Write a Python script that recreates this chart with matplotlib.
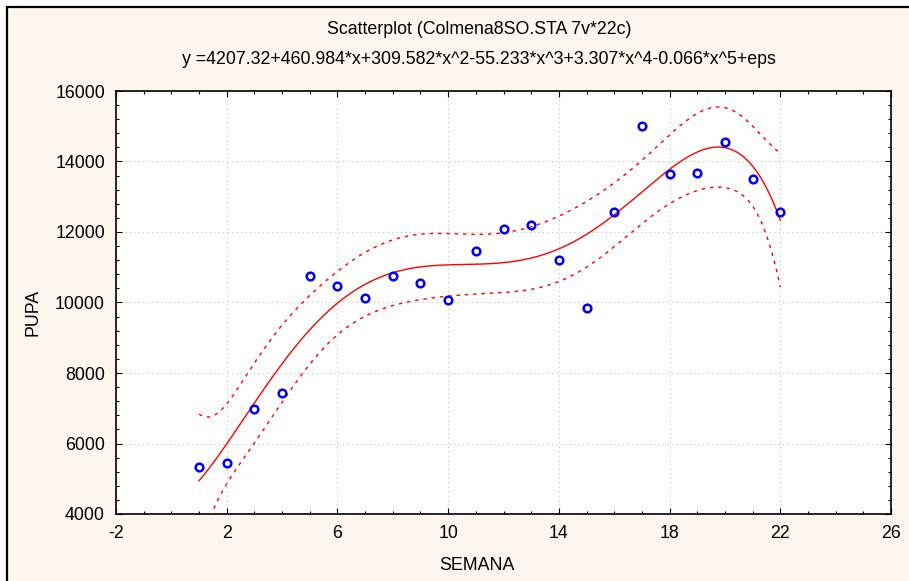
import numpy as np
import matplotlib
matplotlib.use("Agg")
import matplotlib.pyplot as plt
from matplotlib.patches import Rectangle
from matplotlib.ticker import MultipleLocator

# weekly counts read from the scatterplot
semana = [1, 2, 3, 4, 5, 6, 7, 8, 9, 10, 11,
          12, 13, 14, 15, 16, 17, 18, 19, 20, 21, 22]
pupa = [5340, 5460, 6990, 7420, 10750, 10460, 10120, 10750, 10550, 10070, 11460,
        12080, 12190, 11200, 9830, 12570, 15000, 13650, 13670, 14560, 13500, 12570]

title_1 = "Scatterplot (Colmena8SO.STA 7v*22c)"
title_2 = "y =4207.32+460.984*x+309.582*x^2-55.233*x^3+3.307*x^4-0.066*x^5+eps"
x_ticks = [-2, 2, 6, 10, 14, 18, 22, 26]
y_ticks = [4000, 6000, 8000, 10000, 12000, 14000, 16000]

plt.rcParams['font.family'] = ['Liberation Sans', 'DejaVu Sans']
plt.rcParams['axes.unicode_minus'] = False

W, H = 909, 581
bg = '#fdf6ef'


def fit_poly(x, y, deg=5, t_val=2.12):
    """5th degree least squares fit plus 95% band of the mean"""
    x = np.asarray(x, float)
    y = np.asarray(y, float)
    X = np.vander(x, deg + 1)
    beta, *_ = np.linalg.lstsq(X, y, rcond=None)
    resid = y - X @ beta
    s2 = resid @ resid / (len(x) - deg - 1)
    cov = s2 * np.linalg.inv(X.T @ X)
    xg = np.linspace(x.min(), x.max(), 400)
    Xg = np.vander(xg, deg + 1)
    yg = Xg @ beta
    se = np.sqrt(np.einsum('ij,jk,ik->i', Xg, cov, Xg))
    return xg, yg, yg - t_val * se, yg + t_val * se


def main() -> None:
    fig = plt.figure(figsize=(W / 100, H / 100), dpi=100, facecolor='white')
    fig.add_artist(Rectangle((7 / W, -0.1), 1.2, 1 - 7 / H + 0.1,
                             transform=fig.transFigure, facecolor=bg,
                             edgecolor='black', lw=1.6, zorder=-1))

    ax = fig.add_axes([116 / W, 1 - 514 / H, (891 - 116) / W, (514 - 91) / H])
    ax.set_facecolor('white')

    xg, yg, lo, hi = fit_poly(semana, pupa)
    ax.plot(xg, yg, color='#ff0000', lw=1.0, zorder=3)
    ax.plot(xg, hi, color='#ff0000', lw=1.0, ls=(0, (2.5, 3.5)), zorder=3)
    ax.plot(xg, lo, color='#ff0000', lw=1.0, ls=(0, (2.5, 3.5)), zorder=3)

    ax.plot(semana, pupa, 'o', ms=5.5, mfc='none', mec='#0000ff', mew=1.8, zorder=4)

    ax.set_xlim(-2, 26)
    ax.set_ylim(4000, 16000)
    ax.set_xticks(x_ticks)
    ax.set_yticks(y_ticks)
    ax.xaxis.set_minor_locator(MultipleLocator(1))
    ax.yaxis.set_minor_locator(MultipleLocator(400))
    ax.tick_params(which='both', direction='in', top=True, right=True,
                   labelsize=12.8, colors='black', width=0.8)
    ax.tick_params(which='major', length=4, pad=8)
    ax.tick_params(which='minor', length=2.5)
    ax.grid(True, which='major', ls=(0, (1, 3)), color='#c0c0c0', lw=0.8)
    for sp in ax.spines.values():
        sp.set_linewidth(1.2)
        sp.set_color('black')

    fig.text(479 / W, 1 - 30 / H, title_1, ha='center', va='center', fontsize=12.8)
    fig.text(479 / W, 1 - 60 / H, title_2, ha='center', va='center', fontsize=12.8)
    fig.text(33 / W, 1 - 312 / H, 'PUPA', rotation=90, ha='center', va='center', fontsize=12.8)
    fig.text(477 / W, 1 - 565 / H, 'SEMANA', ha='center', va='center', fontsize=12.8)

    fig.savefig('out.png', dpi=100, facecolor=fig.get_facecolor())


if __name__ == '__main__':
    main()
